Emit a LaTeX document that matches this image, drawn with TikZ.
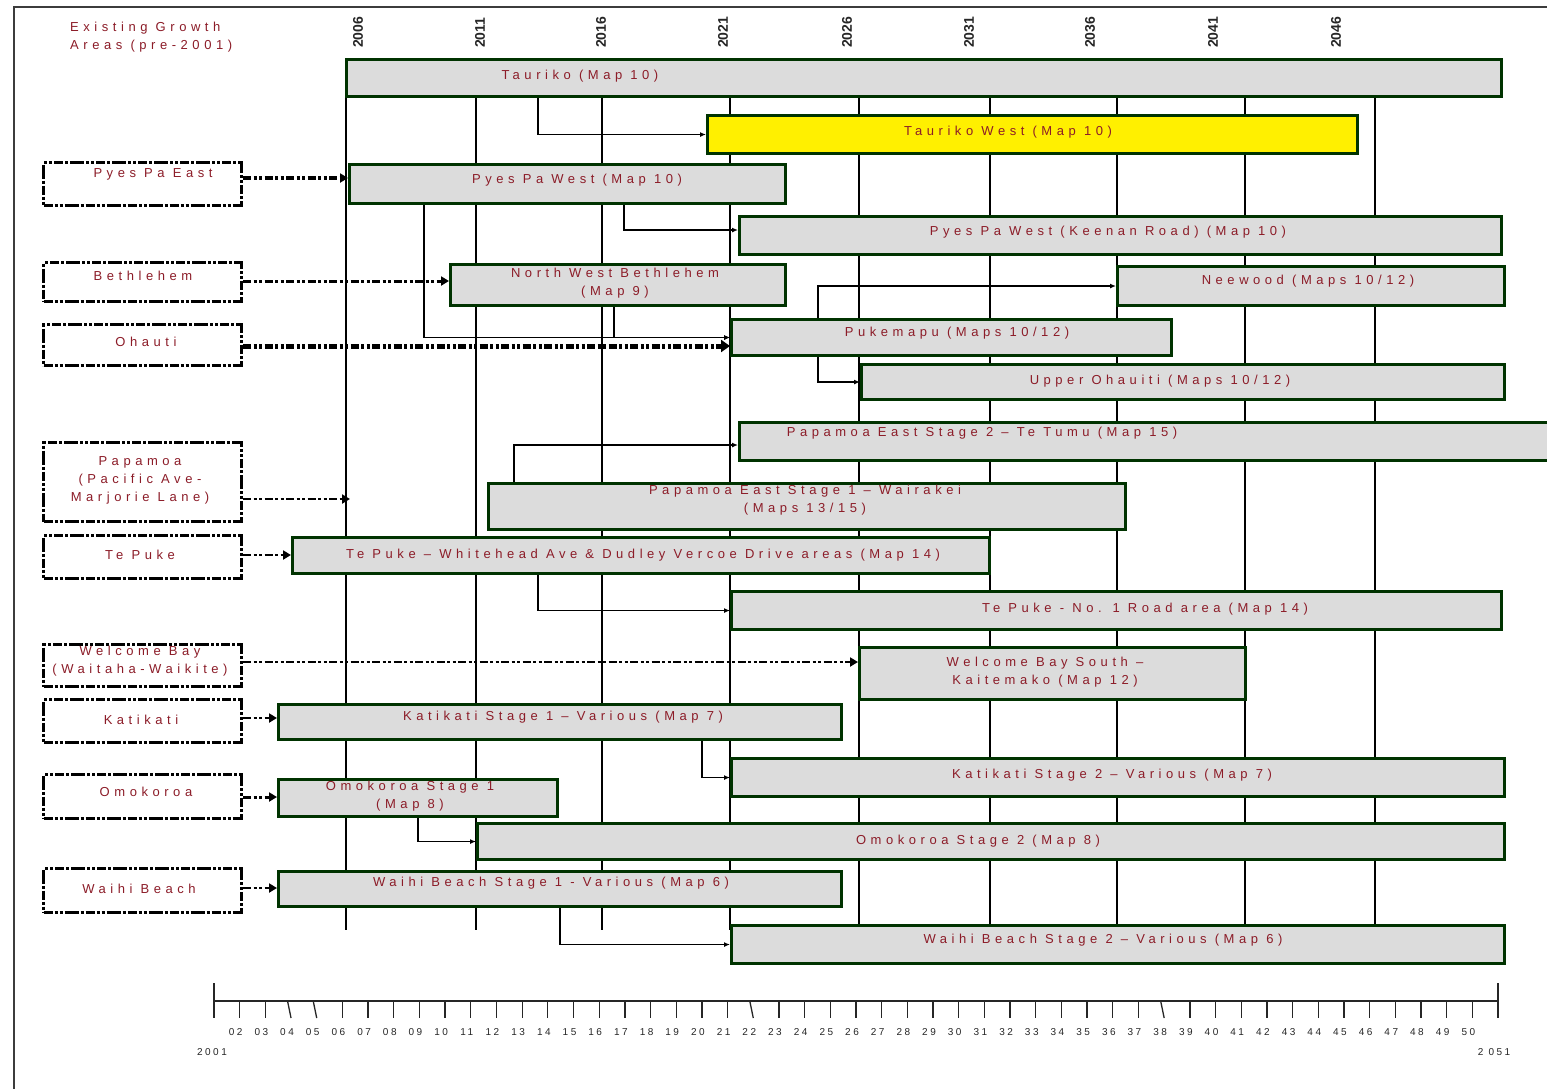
\documentclass[tikz,border=0pt]{standalone}
\usepackage{fontspec}
\setmainfont{Liberation Sans}
\newfontfamily\lsfont[LetterSpace=35]{Liberation Sans}
\newfontfamily\axfont[LetterSpace=25]{Liberation Sans}
\usetikzlibrary{arrows.meta}
\definecolor{txtred}{RGB}{140,28,40}
\definecolor{boxgreen}{RGB}{0,51,0}
\definecolor{boxgray}{RGB}{220,220,220}
\definecolor{boxyellow}{RGB}{255,240,0}
\definecolor{framegray}{RGB}{60,60,60}
\newcommand\gbx[6][boxgray]{\node[gbox, fill=#1, minimum width={#5-#3}, minimum height={#6-#4}] (#2) at (#3,#4) {};}
\newcommand\dbx[5]{\node[dbox, minimum width={#4-#2}, minimum height={#5-#3}] (#1) at (#2,#3) {};}
\begin{document}
\begin{tikzpicture}[x=1pt,y=-1pt,
  gbox/.style={draw=boxgreen, line width=3pt, inner sep=0pt, anchor=north west},
  dbox/.style={draw=black, line width=3pt, inner sep=0pt, anchor=north west,
    dash pattern=on 9pt off 2pt on 3pt off 2pt on 3pt off 2pt on 14pt off 2pt on 3pt off 2pt},
  lbl/.style={font=\lsfont\fontsize{13}{18}\selectfont, text=txtred, inner sep=0pt, align=center},
  yr/.style={font=\bfseries\fontsize{14}{16}\selectfont, text=black!85, inner sep=0pt, rotate=90, anchor=west},
  axlbl/.style={font=\axfont\fontsize{10}{12}\selectfont, text=black!85, inner sep=0pt},
  grid/.style={black, line width=1.3pt},
  axline/.style={black!85, line width=1.3pt},
  conn/.style={black, line width=1.2pt, -{Latex[length=6pt,width=5pt]}},
  darr/.style={black, line width=#1, dash pattern=on 8pt off 2.5pt on 3pt off 2.5pt on 3pt off 2.5pt,
    -{Triangle[length=8pt,width=9pt]}},
  darr/.default=3pt]
\useasboundingbox (0,0) rectangle (1547,1088);
\fill[white] (0,0) rectangle (1547,1088);
% frame
\draw[framegray, line width=2pt] (14,1092) -- (14,7) -- (1552,7);
% caption
\node[lbl, align=left, anchor=north west] (cap) at (70,22) {Existing Growth\\Areas (pre-2001)};
% year labels
\node[yr] (y2006) at (358,48) {2006};
\node[yr] (y2011) at (480,48) {2011};
\node[yr] (y2016) at (601,48) {2016};
\node[yr] (y2021) at (723,48) {2021};
\node[yr] (y2026) at (847,48) {2026};
\node[yr] (y2031) at (969,48) {2031};
\node[yr] (y2036) at (1090,48) {2036};
\node[yr] (y2041) at (1213,48) {2041};
\node[yr] (y2046) at (1336,48) {2046};
% grid lines
\foreach \gx in {346,476,602,730,859,990,1117,1245,1375}{\draw[grid] (\gx,95) -- (\gx,930);}
% boxes
\gbx{tau}{345}{58}{1500}{95}
\gbx[boxyellow]{tw}{706}{114}{1356}{152}
\gbx{ppw}{348}{163}{784}{202}
\gbx{ppk}{738}{215}{1500}{253}
\gbx{nwb}{449}{263}{784}{304}
\gbx{nee}{1116}{265}{1503}{304}
\gbx{puk}{730}{318}{1170}{354}
\gbx{uo}{860}{363}{1503}{398}
\gbx{pe2}{738}{421}{1560}{459}
\gbx{pe1}{487}{482}{1124}{528}
\gbx{tpw}{291}{536}{988}{572}
\gbx{tp1}{730}{590}{1500}{628}
\gbx{wbs}{858}{646}{1244}{698}
\gbx{kk1}{277}{703}{840}{738}
\gbx{kk2}{730}{757}{1503}{795}
\gbx{om1}{277}{778}{556}{815}
\gbx{om2}{476}{822}{1503}{858}
\gbx{wb1}{277}{870}{840}{905}
\gbx{wb2}{730}{924}{1503}{962}
% box texts
\node[lbl] (tau-t) at (580,76) {Tauriko (Map 10)};
\node[lbl] (tw-t) at (1008,132) {Tauriko West (Map 10)};
\node[lbl] (ppw-t) at (577,180) {Pyes Pa West (Map 10)};
\node[lbl] (ppk-t) at (1108,232) {Pyes Pa West (Keenan Road) (Map 10)};
\node[lbl] (nwb-t) at (615,283) {North West Bethlehem\\(Map 9)};
\node[lbl] (nee-t) at (1308,281) {Neewood (Maps 10/12)};
\node[lbl] (puk-t) at (957,333) {Pukemapu (Maps 10/12)};
\node[lbl] (uo-t) at (1160,381) {Upper Ohauiti (Maps 10/12)};
\node[lbl] (pe2-t) at (982,433) {Papamoa East Stage 2 – Te Tumu (Map 15)};
\node[lbl] (pe1-t) at (805,500) {Papamoa East Stage 1 – Wairakei\\(Maps 13/15)};
\node[lbl] (tpw-t) at (643,555) {Te Puke – Whitehead Ave \& Dudley Vercoe Drive areas (Map 14)};
\node[lbl] (tp1-t) at (1145,609) {Te Puke - No. 1 Road area (Map 14)};
\node[lbl] (wbs-t) at (1045,672) {Welcome Bay South –\\Kaitemako (Map 12)};
\node[lbl] (kk1-t) at (563,717) {Katikati Stage 1 – Various (Map 7)};
\node[lbl] (kk2-t) at (1112,775) {Katikati Stage 2 – Various (Map 7)};
\node[lbl] (om1-t) at (410,796) {Omokoroa Stage 1\\(Map 8)};
\node[lbl] (om2-t) at (978,841) {Omokoroa Stage 2 (Map 8)};
\node[lbl] (wb1-t) at (551,883) {Waihi Beach Stage 1 - Various (Map 6)};
\node[lbl] (wb2-t) at (1103,940) {Waihi Beach Stage 2 – Various (Map 6)};
% thin connectors
\draw[conn] (538,0 |- tau.south) |- (tw.west);
\draw[conn] (624,0 |- ppw.south) |- (ppk.west |- 0,230);
\draw[conn] (424,0 |- ppw.south) |- (puk.west);
\draw[conn] (614,0 |- nwb.south) |- (puk.west);
\draw[conn] (818,0 |- puk.north) |- (nee.west);
\draw[conn] (818,0 |- puk.south) |- (uo.west);
\draw[conn] (514,0 |- pe1.north) |- (pe2.west |- 0,445);
\draw[conn] (538,0 |- tpw.south) |- (tp1.west);
\draw[conn] (702,0 |- kk1.south) |- (kk2.west);
\draw[conn] (418,0 |- om1.south) |- (om2.west);
\draw[conn] (560,0 |- wb1.south) |- (wb2.west);
% existing growth areas (dashed)
\dbx{pye}{42}{161}{240}{204}
\dbx{bet}{42}{261}{240}{300}
\dbx{oha}{42}{323}{240}{364}
\dbx{pap}{42}{441}{240}{520}
\dbx{tep}{42}{534}{240}{577}
\dbx{wel}{42}{643}{240}{685}
\dbx{kat}{42}{698}{240}{741}
\dbx{omo}{42}{773}{240}{817}
\dbx{wai}{42}{867}{240}{911}
\node[lbl] (pye-t) at (153,174) {Pyes Pa East};
\node[lbl] (bet-t) at (143,276) {Bethlehem};
\node[lbl] (oha-t) at (146,342) {Ohauti};
\node[lbl] (pap-t) at (140,480) {Papamoa\\(Pacific Ave-\\Marjorie Lane)};
\node[lbl] (tep-t) at (140,555) {Te Puke};
\node[lbl] (wel-t) at (140,661) {Welcome Bay\\(Waitaha-Waikite)};
\node[lbl] (kat-t) at (141,720) {Katikati};
\node[lbl] (omo-t) at (146,792) {Omokoroa};
\node[lbl] (wai-t) at (139,889) {Waihi Beach};
\coordinate (papend) at (350,499);
\draw[darr=3.5pt] (pye.east |- 0,178) -- (ppw.west |- 0,178);
\draw[darr=3pt] (bet.east |- 0,281) -- (nwb.west |- 0,281);
\draw[darr=5pt, -{Triangle[length=9pt,width=12pt]}] (oha.east |- 0,346) -- (puk.west |- 0,346);
\draw[darr=2.5pt] (pap.east |- 0,499) -- (papend);
\draw[darr=2.5pt] (tep.east |- 0,555) -- (tpw.west |- 0,555);
\draw[darr=2pt] (wel.east |- 0,662) -- (wbs.west |- 0,662);
\draw[darr=2.5pt] (kat.east |- 0,718) -- (kk1.west |- 0,718);
\draw[darr=3pt] (omo.east |- 0,797) -- (om1.west |- 0,797);
\draw[darr=2.5pt] (wai.east |- 0,888) -- (wb1.west |- 0,888);
% time axis
\draw[axline] (214,1001) -- (1498,1001);
\draw[axline] (214,983) -- (214,1018);
\draw[axline] (1498,983) -- (1498,1018);
\foreach \i in {1,...,49}{
  \pgfmathsetmacro\xx{214+\i*25.68}
  \pgfmathtruncatemacro\yy{\i+1}
  \ifnum\i=3 \def\slx{3.5}\else\ifnum\i=4 \def\slx{3.5}\else\ifnum\i=21 \def\slx{3.5}\else\ifnum\i=37 \def\slx{3.5}\else\def\slx{0}\fi\fi\fi\fi
  \draw[axline] (\xx-\slx,1001) -- (\xx,1018);
  \node[axlbl] (yl\i) at (\xx-4,1032) {\ifnum\yy<10 0\fi\yy};
}
\node[axlbl] (ax2001) at (212,1052) {2001};
\node[axlbl] (ax2051) at (1494,1052) {2 051};
\end{tikzpicture}
\end{document}
